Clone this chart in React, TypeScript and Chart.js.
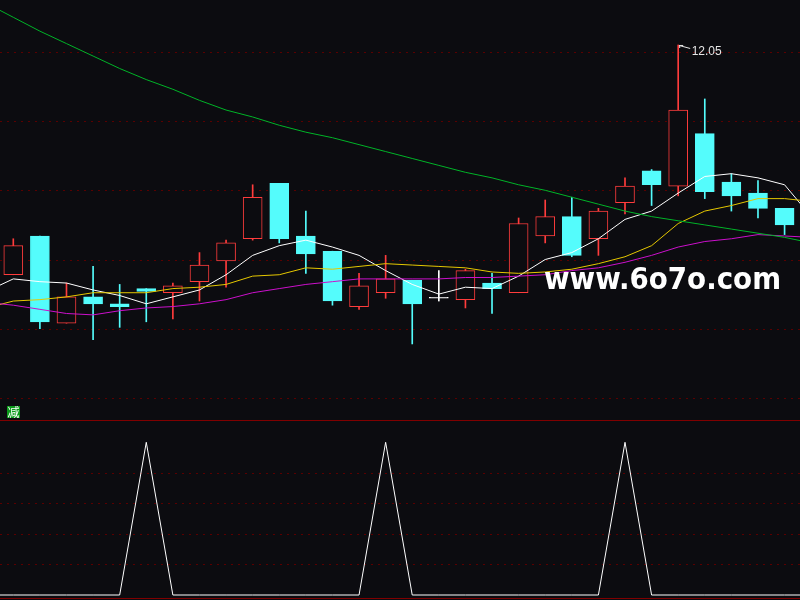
import React, { useEffect, useRef } from 'react';
import { Chart, registerables } from 'chart.js';

Chart.register(...registerables);

const BG = '#0c0c10';
const RED = '#ff3c3c';
const CYAN = '#54fcfc';
const DOJI = '#ffffff';
const GRID = '#5a0000';
const FRAME = '#800000';

// candles, index 0..29
const opens = [10.39, 10.67, 10.04, 10.23, 10.18, 10.29, 10.26, 10.34, 10.49, 10.65, 11.05, 10.67, 10.56, 10.16, 10.26, 10.35, 10.22, 10.21, 10.33, 10.26, 10.67, 10.81, 10.65, 10.91, 11.14, 11.03, 11.41, 11.06, 10.98, 10.87];
const closes = [10.60, 10.05, 10.23, 10.18, 10.16, 10.27, 10.31, 10.46, 10.62, 10.95, 10.65, 10.54, 10.20, 10.31, 10.36, 10.18, 10.22, 10.42, 10.29, 10.76, 10.81, 10.53, 10.85, 11.03, 11.04, 11.58, 10.99, 10.96, 10.87, 10.75];
const highs = [10.65, 10.67, 10.33, 10.45, 10.32, 10.29, 10.33, 10.55, 10.64, 11.04, 11.05, 10.85, 10.56, 10.40, 10.53, 10.35, 10.42, 10.43, 10.40, 10.80, 10.93, 10.95, 10.87, 11.09, 11.15, 12.05, 11.66, 11.12, 11.07, 10.87];
const lows = [10.39, 10.00, 10.04, 9.92, 10.01, 10.05, 10.07, 10.20, 10.30, 10.64, 10.62, 10.40, 10.17, 10.14, 10.22, 9.89, 10.20, 10.15, 10.11, 10.26, 10.62, 10.52, 10.53, 10.83, 10.89, 10.96, 10.94, 10.85, 10.80, 10.68];

// moving-average lines, x index -1..30 (first and last lie just outside the view)
const maX = [-1, 0, 1, 2, 3, 4, 5, 6, 7, 8, 9, 10, 11, 12, 13, 14, 15, 16, 17, 18, 19, 20, 21, 22, 23, 24, 25, 26, 27, 28, 29, 30];
const ma5 = [10.27, 10.36, 10.34, 10.33, 10.28, 10.24, 10.18, 10.23, 10.28, 10.39, 10.53, 10.60, 10.64, 10.59, 10.53, 10.42, 10.32, 10.25, 10.30, 10.29, 10.38, 10.50, 10.55, 10.65, 10.79, 10.85, 10.98, 11.10, 11.12, 11.09, 11.04, 10.81];
const ma10 = [10.15, 10.20, 10.21, 10.23, 10.26, 10.26, 10.26, 10.29, 10.30, 10.32, 10.38, 10.39, 10.44, 10.43, 10.45, 10.47, 10.46, 10.45, 10.44, 10.41, 10.40, 10.41, 10.43, 10.47, 10.52, 10.60, 10.76, 10.85, 10.89, 10.94, 10.94, 10.92];
const ma20 = [10.19, 10.17, 10.14, 10.11, 10.10, 10.13, 10.15, 10.16, 10.18, 10.21, 10.26, 10.29, 10.32, 10.34, 10.36, 10.36, 10.36, 10.36, 10.37, 10.37, 10.38, 10.39, 10.42, 10.44, 10.48, 10.53, 10.59, 10.63, 10.65, 10.68, 10.67, 10.66];
const ma60 = [12.35, 12.25, 12.15, 12.06, 11.97, 11.88, 11.80, 11.73, 11.65, 11.58, 11.53, 11.47, 11.42, 11.38, 11.33, 11.28, 11.23, 11.18, 11.13, 11.09, 11.04, 11.00, 10.95, 10.90, 10.85, 10.81, 10.78, 10.75, 10.72, 10.69, 10.66, 10.62];

// lower indicator (same x index -1..30)
const signal = [0, 0, 0, 0, 0, 0, 1, 0, 0, 0, 0, 0, 0, 0, 0, 1, 0, 0, 0, 0, 0, 0, 0, 0, 1, 0, 0, 0, 0, 0, 0, 0];

const priceGrid = [9.5, 10, 10.5, 11, 11.5, 12];
const signalGrid = [0.2, 0.4, 0.6, 0.8];
const indicatorTag = '减';
const watermark = 'www.6o7o.com';

function dashGrid(levels: number[]) {
  return {
    id: 'dashGrid',
    beforeDatasetsDraw(chart: any) {
      const { ctx, chartArea, scales } = chart;
      ctx.save();
      ctx.strokeStyle = GRID;
      ctx.lineWidth = 1;
      ctx.setLineDash([2, 5]);
      levels.forEach((v) => {
        const y = Math.round(scales.y.getPixelForValue(v)) + 0.5;
        ctx.beginPath();
        ctx.moveTo(chartArea.left, y);
        ctx.lineTo(chartArea.right, y);
        ctx.stroke();
      });
      ctx.restore();
    },
  };
}

const topDecor = {
  id: 'topDecor',
  afterDraw(chart: any) {
    const { ctx, scales } = chart;
    // peak label
    let pk = 0;
    highs.forEach((h, i) => { if (h > highs[pk]) pk = i; });
    const px = scales.x.getPixelForValue(pk);
    const py = scales.y.getPixelForValue(highs[pk]);
    ctx.save();
    ctx.strokeStyle = '#e6e6e6';
    ctx.lineWidth = 1;
    ctx.beginPath();
    ctx.moveTo(px + 1, py + 0.5);
    ctx.lineTo(px + 12, py + 3.5);
    ctx.moveTo(px + 1, py + 0.5);
    ctx.lineTo(px + 5, py + 0.5);
    ctx.moveTo(px + 1.5, py + 0.5);
    ctx.lineTo(px + 1.5, py + 3);
    ctx.stroke();
    ctx.fillStyle = '#e6e6e6';
    ctx.font = '12px "Liberation Sans", Arial, sans-serif';
    ctx.textBaseline = 'alphabetic';
    ctx.textAlign = 'left';
    ctx.fillText(highs[pk].toFixed(2), px + 13.5, py + 10);

    // indicator tag
    ctx.fillStyle = '#0b9a1a';
    ctx.fillRect(7, 406, 13, 12);
    ctx.fillStyle = '#ffffff';
    ctx.font = '12px "Noto Sans CJK SC", sans-serif';
    ctx.textBaseline = 'middle';
    ctx.fillText(indicatorTag, 7.5, 412);

    // watermark
    ctx.font = 'bold 30px "DejaVu Sans", sans-serif';
    ctx.textBaseline = 'alphabetic';
    const w = ctx.measureText(watermark).width;
    ctx.translate(544, 288.5);
    ctx.scale(237 / w, 1);
    ctx.fillStyle = '#ffffff';
    ctx.fillText(watermark, 0, 0);
    ctx.restore();
  },
};

export default function App() {
  const topRef = useRef<HTMLCanvasElement>(null);
  const botRef = useRef<HTMLCanvasElement>(null);

  useEffect(() => {
    const fill = opens.map((o, i) => (closes[i] > o ? BG : closes[i] < o ? CYAN : DOJI));
    const stroke = opens.map((o, i) => (closes[i] > o ? RED : closes[i] < o ? CYAN : DOJI));
    const line = (vals: number[], color: string) => ({
      type: 'line' as const,
      data: maX.map((x, i) => ({ x, y: vals[i] })),
      borderColor: color,
      borderWidth: 1,
      pointRadius: 0,
      tension: 0,
      fill: false,
      order: 0,
    });

    const top = new Chart(topRef.current!, {
      type: 'bar',
      data: {
        datasets: [
          line(ma60, '#00b428'),
          line(ma20, '#cc10cc'),
          line(ma10, '#e6c800'),
          line(ma5, '#ffffff'),
          {
            type: 'bar',
            data: opens.map((o, i) => ({ x: i, y: [o, closes[i]] })),
            backgroundColor: fill,
            borderColor: stroke,
            borderWidth: 1,
            borderSkipped: false,
            barThickness: 19,
            minBarLength: 1,
            grouped: false,
            order: 1,
          } as any,
          {
            type: 'bar',
            data: lows.map((l, i) => ({ x: i, y: [l, highs[i]] })),
            backgroundColor: stroke,
            borderWidth: 0,
            barThickness: 1,
            grouped: false,
            order: 2,
          } as any,
        ],
      },
      options: {
        animation: false,
        responsive: false,
        devicePixelRatio: 1,
        events: [],
        layout: { padding: 0 },
        plugins: { legend: { display: false }, tooltip: { enabled: false } },
        scales: {
          x: { type: 'linear', min: -0.5, max: 29.58, offset: false, display: false },
          y: { type: 'linear', min: 9.3405, max: 12.375, display: false },
        },
      },
      plugins: [dashGrid(priceGrid), topDecor],
    } as any);

    const bot = new Chart(botRef.current!, {
      type: 'line',
      data: {
        datasets: [
          {
            data: maX.map((x, i) => ({ x, y: signal[i] })),
            borderColor: '#ffffff',
            borderWidth: 1,
            pointRadius: 0,
            tension: 0,
            fill: false,
          },
        ],
      },
      options: {
        animation: false,
        responsive: false,
        devicePixelRatio: 1,
        events: [],
        layout: { padding: 0 },
        plugins: { legend: { display: false }, tooltip: { enabled: false } },
        scales: {
          x: { type: 'linear', min: -0.5, max: 29.58, offset: false, display: false },
          y: { type: 'linear', min: -0.0327, max: 1.146, display: false },
        },
      },
      plugins: [dashGrid(signalGrid)],
    } as any);

    return () => {
      top.destroy();
      bot.destroy();
    };
  }, []);

  return (
    <div style={{ position: 'fixed', left: 0, top: 0, width: 800, height: 600, background: BG, overflow: 'hidden' }}>
      <canvas ref={topRef} width={800} height={420} style={{ position: 'absolute', left: 0, top: 0, width: 800, height: 420 }} />
      <canvas ref={botRef} width={800} height={180} style={{ position: 'absolute', left: 0, top: 420, width: 800, height: 180 }} />
      <div style={{ position: 'absolute', left: 0, top: 420, width: 800, height: 1, background: FRAME }} />
      <div style={{ position: 'absolute', left: 0, top: 598, width: 800, height: 1, background: FRAME }} />
    </div>
  );
}
